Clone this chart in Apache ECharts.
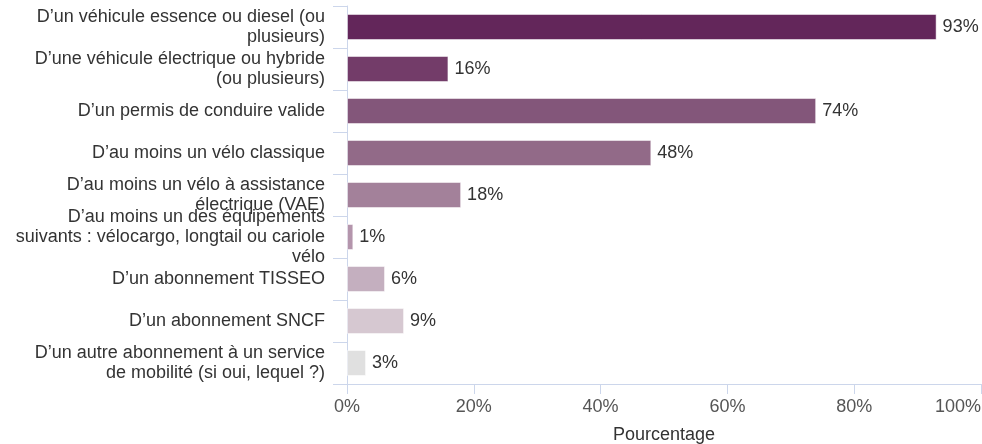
<!DOCTYPE html>
<html>
<head>
<meta charset="utf-8">
<script src="https://cdn.jsdelivr.net/npm/echarts@6/dist/echarts.min.js"></script>
<style>
html,body{margin:0;padding:0;background:#fff;}
#chart{width:982px;height:444px;}
</style>
</head>
<body>
<div id="chart"></div>
<script>
const categories = [
  "D’un véhicule essence ou diesel (ou\nplusieurs)",
  "D’une véhicule électrique ou hybride\n(ou plusieurs)",
  "D’un permis de conduire valide",
  "D’au moins un vélo classique",
  "D’au moins un vélo à assistance\nélectrique (VAE)",
  "D’au moins un des équipements\nsuivants : vélocargo, longtail ou cariole\nvélo",
  "D’un abonnement TISSEO",
  "D’un abonnement SNCF",
  "D’un autre abonnement à un service\nde mobilité (si oui, lequel ?)"
];
const values = [93, 16, 74, 48, 18, 1, 6, 9, 3];
const barColors = ["#63265a", "#733c69", "#83567a", "#926a88", "#a3819a", "#b495ac", "#c4afbf", "#d6c8d1", "#e0e0e0"];
const axisName = "Pourcentage";

const chart = echarts.init(document.getElementById('chart'));
const font = "'Liberation Sans', Arial, sans-serif";
chart.setOption({
  animation: false,
  grid: { left: 347, right: 1, top: 6, bottom: 60, containLabel: false, outerBoundsMode: 'none' },
  xAxis: {
    type: 'value', min: 0, max: 100, interval: 20,
    name: axisName, nameLocation: 'middle', nameGap: 42,
    nameTextStyle: { fontFamily: font, fontSize: 18, color: '#333' },
    axisLine: { show: true, lineStyle: { color: '#ccd6eb', width: 1 } },
    axisTick: { show: true, length: 10, lineStyle: { color: '#ccd6eb' } },
    splitLine: { show: false },
    axisLabel: { formatter: '{value}%', fontFamily: font, fontSize: 18, color: '#555', margin: 14, alignMaxLabel: 'right' }
  },
  yAxis: {
    type: 'category', inverse: true, data: categories,
    axisLine: { show: true, lineStyle: { color: '#ccd6eb', width: 1 } },
    axisTick: { show: true, length: 14, lineStyle: { color: '#ccd6eb' } },
    axisLabel: { interval: 0, margin: 22, fontFamily: font, fontSize: 18, color: '#333', lineHeight: 20, align: 'right', padding: [4, 0, 0, 0] }
  },
  series: [{
    type: 'bar',
    data: values.map((v, i) => ({ value: v, itemStyle: { color: barColors[i] } })),
    barWidth: 26,
    itemStyle: { borderColor: 'rgba(255,255,255,0.5)', borderWidth: 1 },
    label: { show: true, position: 'right', distance: 6, formatter: '{c}%', fontFamily: font, fontSize: 18, color: '#333' }
  }]
});
</script>
</body>
</html>
